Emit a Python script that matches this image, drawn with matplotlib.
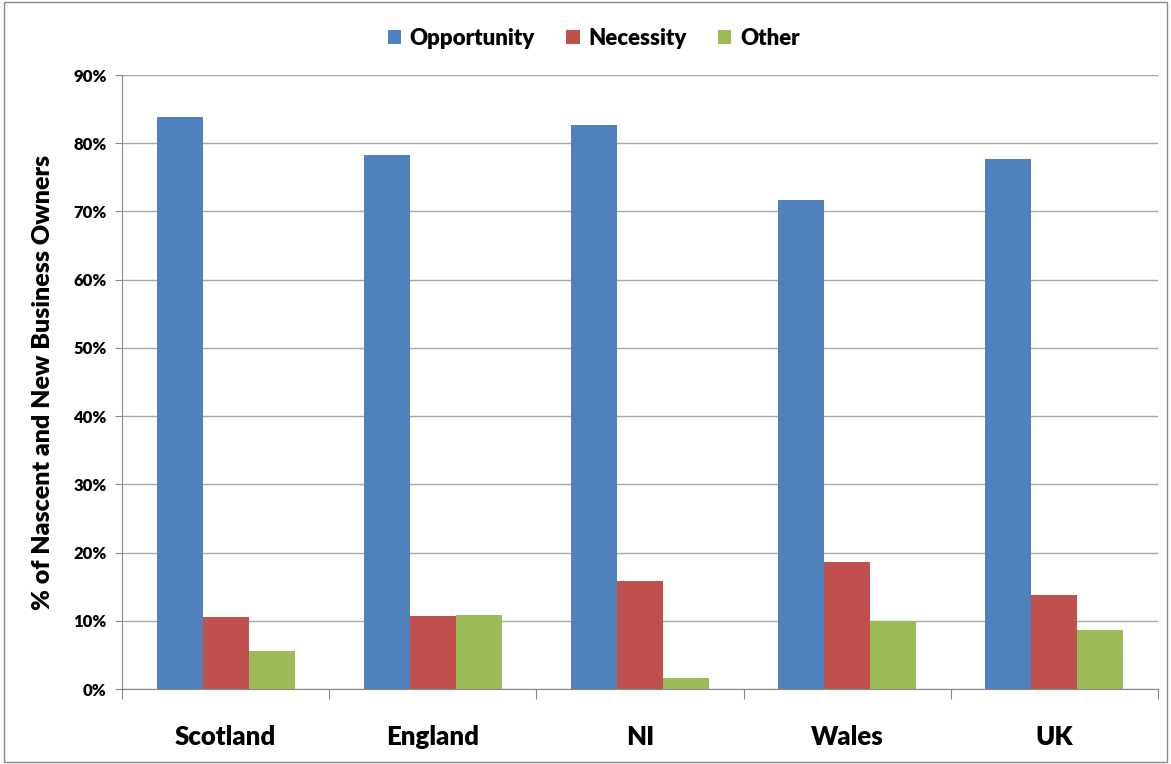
import numpy as np
import matplotlib.pyplot as plt
from matplotlib.patches import Rectangle

regions = ['Scotland', 'England', 'NI', 'Wales', 'UK']
opportunity = [83.9, 78.3, 82.6, 71.7, 77.7]
necessity = [10.5, 10.7, 15.8, 18.6, 13.8]
other = [5.6, 10.9, 1.6, 10.0, 8.6]

plt.rcParams['font.family'] = ['Lato', 'DejaVu Sans']
WT = 'heavy'

fig = plt.figure(figsize=(11.71, 7.64), dpi=100)
ax = fig.add_axes([122 / 1171, 75 / 764, (1158 - 122) / 1171, (689 - 75) / 764])

x = np.arange(len(regions))
w = 0.222
ax.bar(x - w, opportunity, w, color='#4F81BD', label='Opportunity', zorder=3)
ax.bar(x, necessity, w, color='#C0504D', label='Necessity', zorder=3)
ax.bar(x + w, other, w, color='#9BBB59', label='Other', zorder=3)

ax.set_xlim(-0.5, len(regions) - 0.5)
ax.set_ylim(0, 90)
ax.set_yticks(np.arange(0, 91, 10))
ax.set_yticklabels([f'{v}%' for v in range(0, 91, 10)], fontsize=12, fontweight=WT)
ax.yaxis.grid(True, color='#A6A6A6', linewidth=1, zorder=0)

# category labels sit between the boundary ticks
ax.set_xticks(np.arange(-0.5, len(regions)), minor=False)
ax.set_xticklabels([])
ax.set_xticks(x, minor=True)
ax.set_xticklabels(regions, minor=True, fontsize=18.5, fontweight=WT)
ax.tick_params(axis='x', which='minor', length=0, pad=26)
ax.tick_params(axis='x', which='major', length=7, color='#888888')
ax.tick_params(axis='y', length=5, color='#888888', pad=6)

for side in ['top', 'right']:
    ax.spines[side].set_visible(False)
ax.spines['left'].set_color('#888888')
ax.spines['bottom'].set_color('#888888')

ax.set_ylabel('% of Nascent and New Business Owners', fontsize=18, fontweight=WT, labelpad=14)

fig.legend(loc='upper center', bbox_to_anchor=(0.507, 0.99), ncol=3, frameon=False,
           prop={'size': 16, 'weight': WT}, handlelength=0.6, handleheight=0.6,
           handletextpad=0.4, columnspacing=1.4)

fig.patches.append(Rectangle((0.003, 0.003), 0.994, 0.994, transform=fig.transFigure,
                             fill=False, edgecolor='#888888', linewidth=1))

fig.savefig('out.png', dpi=100)
